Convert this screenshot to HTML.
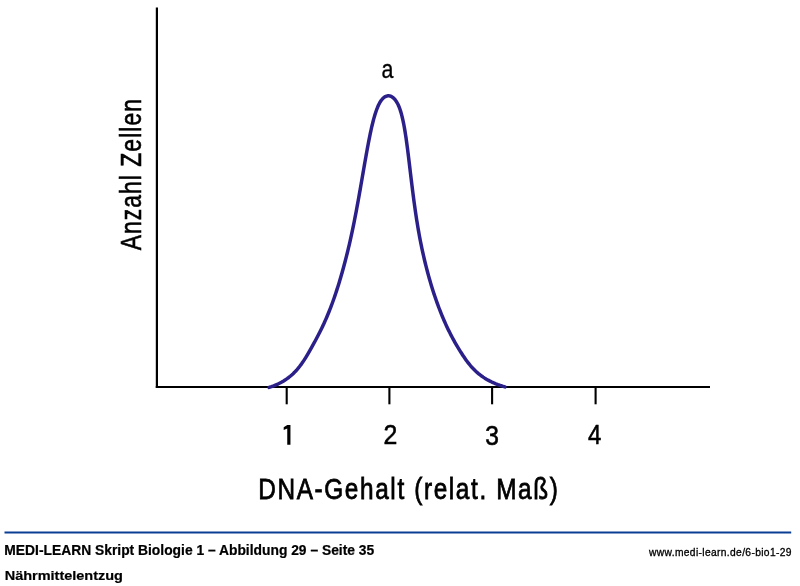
<!DOCTYPE html>
<html><head><meta charset="utf-8"><title>DNA-Gehalt</title>
<style>html,body{margin:0;padding:0;background:#fff;width:800px;height:586px;overflow:hidden}svg{display:block;will-change:transform}text{font-family:"Liberation Sans", sans-serif}</style>
</head><body>
<svg width="800" height="586" viewBox="0 0 800 586">
<g stroke="#000" fill="none" stroke-width="2.2">
<line x1="156.9" y1="7.5" x2="156.9" y2="388.1"/>
<line x1="155.8" y1="387.0" x2="710" y2="387.0"/>
<g stroke-width="2.1"><line x1="286.7" y1="387" x2="286.7" y2="404.3"/><line x1="389.4" y1="387" x2="389.4" y2="404.3"/><line x1="492.1" y1="387" x2="492.1" y2="404.3"/><line x1="595.6" y1="387" x2="595.6" y2="404.3"/></g>
</g>
<path d="M269.10,387.40 L271.45,386.64 L273.71,385.83 L275.88,384.95 L277.95,384.03 L279.94,383.05 L281.85,382.02 L283.67,380.95 L285.43,379.83 L287.10,378.67 L288.71,377.48 L290.25,376.24 L291.72,374.97 L293.14,373.67 L294.49,372.34 L295.79,370.98 L297.04,369.59 L298.24,368.19 L299.39,366.76 L300.50,365.31 L301.58,363.85 L302.61,362.37 L303.61,360.89 L304.58,359.39 L305.53,357.89 L306.45,356.39 L307.34,354.88 L308.23,353.37 L309.09,351.87 L309.94,350.37 L310.79,348.88 L311.63,347.40 L312.45,345.92 L313.27,344.44 L314.09,342.97 L314.89,341.49 L315.69,340.02 L316.48,338.54 L317.27,337.05 L318.05,335.56 L318.82,334.06 L319.59,332.54 L320.35,331.02 L321.11,329.49 L321.86,327.93 L322.61,326.37 L323.36,324.78 L324.10,323.18 L324.83,321.55 L325.57,319.90 L326.30,318.22 L327.03,316.52 L327.76,314.79 L328.48,313.03 L329.20,311.24 L329.92,309.42 L330.64,307.56 L331.36,305.67 L332.08,303.74 L332.80,301.77 L333.52,299.76 L334.24,297.71 L334.95,295.63 L335.67,293.51 L336.38,291.35 L337.09,289.16 L337.80,286.94 L338.51,284.68 L339.21,282.40 L339.91,280.08 L340.61,277.73 L341.30,275.35 L341.99,272.94 L342.67,270.50 L343.36,268.04 L344.03,265.55 L344.70,263.04 L345.37,260.50 L346.03,257.93 L346.68,255.35 L347.33,252.74 L347.97,250.11 L348.61,247.46 L349.24,244.79 L349.86,242.10 L350.47,239.39 L351.07,236.67 L351.67,233.92 L352.26,231.17 L352.84,228.40 L353.41,225.61 L353.98,222.82 L354.54,220.02 L355.09,217.21 L355.63,214.39 L356.17,211.57 L356.70,208.75 L357.22,205.93 L357.74,203.11 L358.25,200.29 L358.76,197.47 L359.26,194.66 L359.75,191.86 L360.25,189.07 L360.73,186.29 L361.21,183.53 L361.69,180.77 L362.16,178.04 L362.63,175.32 L363.10,172.62 L363.56,169.94 L364.02,167.29 L364.48,164.66 L364.94,162.06 L365.39,159.48 L365.84,156.93 L366.29,154.42 L366.74,151.94 L367.18,149.49 L367.63,147.08 L368.07,144.70 L368.52,142.37 L368.96,140.07 L369.41,137.82 L369.86,135.61 L370.30,133.44 L370.76,131.32 L371.21,129.25 L371.67,127.22 L372.13,125.25 L372.60,123.33 L373.07,121.46 L373.54,119.64 L374.02,117.89 L374.51,116.19 L375.00,114.55 L375.50,112.97 L376.01,111.45 L376.52,109.99 L377.04,108.60 L377.57,107.28 L378.11,106.03 L378.66,104.84 L379.22,103.72 L379.79,102.68 L380.36,101.71 L380.95,100.82 L381.55,99.99 L382.16,99.25 L382.78,98.58 L383.41,97.98 L384.04,97.45 L384.67,97.00 L385.31,96.62 L385.96,96.32 L386.61,96.08 L387.26,95.92 L387.91,95.83 L388.56,95.81 L389.20,95.85 L389.85,95.97 L390.50,96.16 L391.14,96.42 L391.77,96.75 L392.40,97.15 L393.02,97.62 L393.64,98.15 L394.25,98.75 L394.84,99.42 L395.43,100.16 L396.01,100.96 L396.57,101.83 L397.12,102.77 L397.66,103.77 L398.18,104.83 L398.69,105.97 L399.18,107.16 L399.65,108.42 L400.12,109.74 L400.56,111.12 L401.00,112.56 L401.42,114.05 L401.83,115.60 L402.23,117.21 L402.62,118.87 L403.00,120.58 L403.37,122.34 L403.73,124.15 L404.08,126.01 L404.43,127.92 L404.76,129.87 L405.09,131.87 L405.42,133.91 L405.74,135.99 L406.05,138.11 L406.36,140.27 L406.67,142.47 L406.97,144.70 L407.27,146.98 L407.57,149.28 L407.86,151.62 L408.16,153.98 L408.46,156.38 L408.75,158.81 L409.05,161.26 L409.35,163.75 L409.65,166.25 L409.95,168.78 L410.25,171.33 L410.56,173.90 L410.87,176.49 L411.19,179.10 L411.51,181.72 L411.83,184.36 L412.16,187.01 L412.49,189.68 L412.83,192.35 L413.17,195.04 L413.53,197.73 L413.88,200.43 L414.25,203.13 L414.62,205.84 L415.00,208.55 L415.39,211.26 L415.79,213.97 L416.20,216.68 L416.61,219.39 L417.04,222.09 L417.48,224.78 L417.93,227.47 L418.39,230.15 L418.86,232.81 L419.34,235.47 L419.83,238.11 L420.34,240.74 L420.86,243.36 L421.39,245.96 L421.93,248.55 L422.48,251.12 L423.05,253.67 L423.62,256.21 L424.21,258.73 L424.80,261.23 L425.41,263.72 L426.02,266.18 L426.65,268.63 L427.28,271.06 L427.93,273.46 L428.58,275.85 L429.24,278.21 L429.91,280.55 L430.59,282.87 L431.27,285.17 L431.97,287.44 L432.67,289.69 L433.38,291.91 L434.09,294.11 L434.82,296.28 L435.55,298.43 L436.28,300.55 L437.02,302.64 L437.77,304.70 L438.53,306.74 L439.29,308.75 L440.05,310.73 L440.82,312.68 L441.60,314.61 L442.39,316.51 L443.18,318.39 L443.97,320.24 L444.77,322.07 L445.58,323.87 L446.40,325.65 L447.22,327.41 L448.04,329.14 L448.88,330.86 L449.72,332.55 L450.56,334.22 L451.42,335.87 L452.28,337.50 L453.14,339.11 L454.01,340.70 L454.89,342.27 L455.78,343.83 L456.67,345.37 L457.57,346.89 L458.47,348.39 L459.38,349.88 L460.30,351.36 L461.23,352.81 L462.16,354.26 L463.10,355.69 L464.05,357.10 L465.01,358.50 L465.99,359.89 L466.99,361.25 L468.01,362.60 L469.06,363.93 L470.14,365.24 L471.25,366.53 L472.39,367.80 L473.57,369.05 L474.79,370.27 L476.06,371.47 L477.37,372.65 L478.74,373.80 L480.15,374.93 L481.63,376.03 L483.17,377.11 L484.76,378.15 L486.43,379.17 L488.16,380.16 L489.97,381.11 L491.85,382.04 L493.81,382.93 L495.85,383.79 L497.98,384.62 L500.19,385.42 L502.50,386.18 L504.90,386.90" fill="none" stroke="#2b2089" stroke-width="3.5" stroke-linecap="round" stroke-linejoin="round"/>
<g fill="#000">
<g stroke="#000" stroke-width="0.6"><text transform="translate(140.52,250.32) rotate(-90) scale(0.7349,0.9505)" font-weight="400" font-size="31" letter-spacing="1.5">Anzahl Zellen</text></g><g stroke="#000" stroke-width="0.8"><text transform="translate(258.28,499.26) scale(0.8120,0.9694)" font-weight="400" font-size="30" letter-spacing="2.0">DNA-Gehalt (relat. Maß)</text></g>
<g stroke="#000" stroke-width="0.35"><text transform="translate(381.51,78.02) scale(0.7930,0.9639)" font-weight="400" font-size="27">a</text></g><g stroke="#000" stroke-width="0.6"><text transform="translate(383.43,444.46) scale(0.8582,0.9542)" font-weight="400" font-size="29">2</text><text transform="translate(485.26,444.52) scale(0.8483,0.9571)" font-weight="400" font-size="29">3</text><text transform="translate(588.09,444.46) scale(0.8262,0.9659)" font-weight="400" font-size="29">4</text></g>
<polygon points="290.45,424.9 290.45,444.7 287.25,444.7 287.25,428.4 283.7,430.1 283.7,427.2 287.3,424.9"/>
</g>
<line x1="4.5" y1="532.6" x2="791.2" y2="532.6" stroke="#0a3d94" stroke-width="2"/>
<g fill="#000">
<g stroke="#000" stroke-width="0.22"><text transform="translate(4.34,554.90) scale(1.0107,1.0105)" font-weight="700" font-size="13.7">MEDI-LEARN Skript Biologie 1 – Abbildung 29 – Seite 35</text><text transform="translate(4.71,579.60) scale(1.0585,0.9684)" font-weight="700" font-size="13.7">Nährmittelentzug</text></g>
<g stroke="#000" stroke-width="0.35"><text transform="translate(649.01,555.57) scale(0.8565,0.9371)" font-weight="400" font-size="12" letter-spacing="0.4">www.medi-learn.de/6-bio1-29</text></g>
</g>
</svg>
</body></html>
